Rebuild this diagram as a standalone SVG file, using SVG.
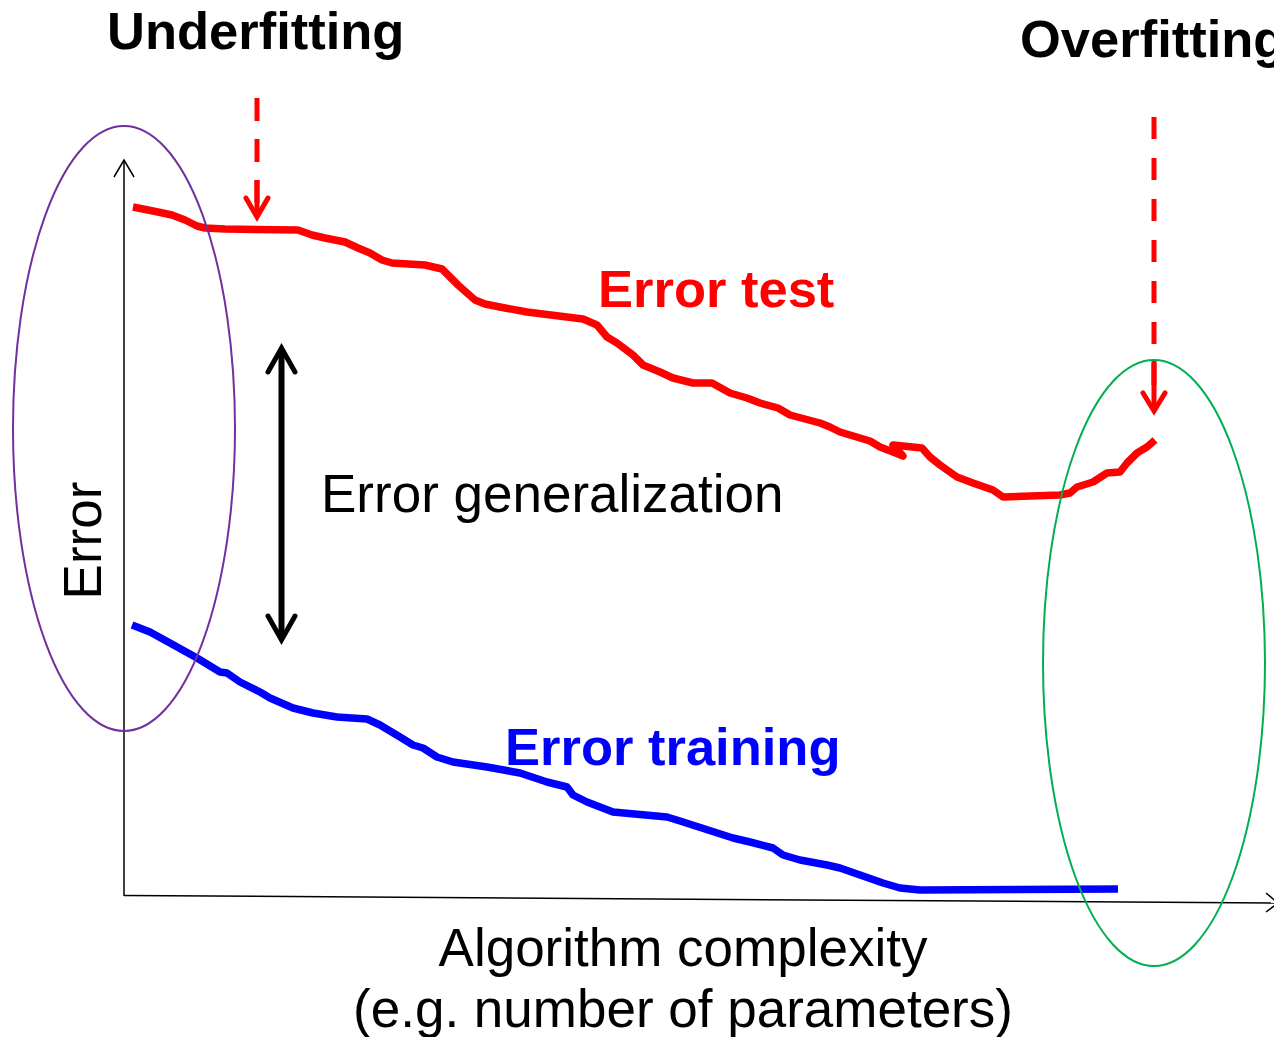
<svg xmlns="http://www.w3.org/2000/svg" width="1274" height="1037" viewBox="0 0 1274 1037">
<style>
  .t { font-family: "Liberation Sans", Arial, sans-serif; font-size: 53px; fill: #000; }
  .b { font-weight: bold; font-size: 52.5px; }
  .axis { fill: none; stroke: #000; stroke-width: 1.5; }
  .curve { fill: none; stroke-width: 7.5; stroke-linejoin: round; stroke-linecap: butt; }
  .dash { fill: none; stroke: #FF0000; stroke-width: 5; }
  .head { fill: none; stroke-width: 5; stroke-linecap: round; stroke-linejoin: miter; }
</style>
<rect width="1274" height="1037" fill="#fff"/>

<g id="axes">
  <line class="axis" x1="124" y1="896" x2="124" y2="161"/>
  <polyline class="axis" points="114,177 124,160 134,177"/>
  <line class="axis" x1="124" y1="895.5" x2="1276" y2="903"/>
  <polyline class="axis" points="1266,893 1278,903 1266,912"/>
</g>

<g id="curve-test">
  <path class="curve" stroke="#FF0000" d="M133,207 L158,212 172,215 185,220 197,226 205,228 225,229 298,230 312,235 325,238 345,242 358,248 370,253 382,260 392,263 425,265 442,269 458,285 475,300 485,304 505,308 527,312 583,319 597,325 607,337 617,343 633,355 643,365 660,372 673,378 693,383 712,383 730,393 747,398 760,403 778,408 790,415 820,423 830,427 840,432 870,441 880,447 893,452 903,456 L893,445 903,446 922,448 930,457 940,465 957,477 973,483 993,490 1003,497 1060,495 1070,493 1077,487 1093,482 1107,473 1120,472 1127,463 1137,453 1147,447 1155,440"/>
</g>

<g id="curve-training">
  <path class="curve" stroke="#0000FF" d="M132,625 L150,632 170,643 197,658 220,672 227,673 240,682 260,692 270,698 293,708 313,713 337,717 367,719 380,725 400,737 413,745 423,748 437,757 453,762 487,767 520,773 547,782 567,787 573,795 587,802 613,812 667,817 680,821 733,838 750,842 773,848 783,855 800,860 827,865 840,868 883,883 900,888 920,890 1118,889"/>
</g>

<g id="ellipse-underfitting">
  <ellipse cx="124" cy="428.5" rx="111" ry="302.5" fill="none" stroke="#7030A0" stroke-width="2"/>
</g>
<g id="ellipse-overfitting">
  <ellipse cx="1154" cy="663" rx="111" ry="303" fill="none" stroke="#00B050" stroke-width="2"/>
</g>

<g id="connectors">
  <g id="arrow-underfitting">
    <line class="dash" x1="257" y1="98" x2="257" y2="203" stroke-dasharray="23 18"/>
    <line class="dash" x1="257" y1="180" x2="257" y2="215"/>
    <polyline class="head" stroke="#FF0000" points="246,198 257,217 268,198"/>
  </g>
  <g id="arrow-overfitting">
    <line class="dash" x1="1154" y1="117" x2="1154" y2="386" stroke-dasharray="22 19"/>
    <line class="dash" x1="1154" y1="361" x2="1154" y2="408"/>
    <polyline class="head" stroke="#FF0000" points="1143,393 1154,411 1165,393"/>
  </g>
  <g id="arrow-generalization">
    <line x1="281.5" y1="350" x2="281.5" y2="638" stroke="#000" stroke-width="6"/>
    <polyline class="head" stroke="#000" stroke-width="6" points="268,372 281.5,348 295,372"/>
    <polyline class="head" stroke="#000" stroke-width="6" points="268,616 281.5,640 295,616"/>
  </g>
</g>

<g id="label-underfitting"><text class="t b" x="107" y="49">Underfitting</text></g>
<g id="label-overfitting"><text class="t b" x="1020" y="57">Overfitting</text></g>
<g id="label-error-test"><text class="t b" x="598" y="307" style="fill:#FF0000">Error test</text></g>
<g id="label-error-training"><text class="t b" x="505" y="765" style="fill:#0000FF">Error training</text></g>
<g id="label-generalization"><text class="t" x="321" y="512">Error generalization</text></g>
<g id="label-error"><text class="t" transform="translate(101,540.5) rotate(-90)" text-anchor="middle">Error</text></g>
<g id="label-complexity">
  <text class="t" x="683" y="966" text-anchor="middle">Algorithm complexity</text>
  <text class="t" x="683" y="1027" text-anchor="middle">(e.g. number of parameters)</text>
</g>
</svg>
